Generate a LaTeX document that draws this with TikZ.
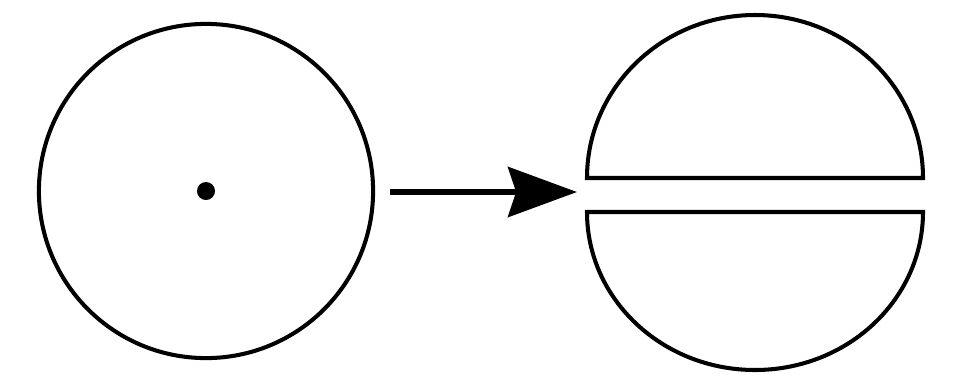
\documentclass[tikz,border=0pt]{standalone}
\usetikzlibrary{arrows.meta}
\pgfkeys{tikz/outline/.style={draw,line width=1.15pt}}
\pgfkeys{tikz/bigarrow/.style={draw,line width=1.7pt,-{Stealth[length=19.6pt,width=14.2pt,inset=2.3pt]}}}
\newcommand*\splithalf[3]{\draw[outline] (#1) arc[start angle=180,end angle=#2,x radius=168,y radius=#3] -- cycle;}

\begin{document}
\begin{tikzpicture}[x=0.01cm,y=-0.01cm]
\useasboundingbox (0,0) rectangle (975,378);

% whole disk with its centre
\node [circle,outline,minimum size=3.34cm,inner sep=0pt] (whole) at (206,191) {};
\node [circle,fill,minimum size=0.18cm,inner sep=0pt] (centre) at (whole.center) {};

% the two halves
\coordinate (top chord) at (587,178);
\coordinate (bottom chord) at (587,212);
\splithalf{top chord}{360}{163}
\splithalf{bottom chord}{0}{158}

% arrow
\coordinate (arrow tail) at (390,192);
\coordinate (arrow head) at (577,192);
\draw [bigarrow] (arrow tail) -- (arrow head);

\end{tikzpicture}
\end{document}
